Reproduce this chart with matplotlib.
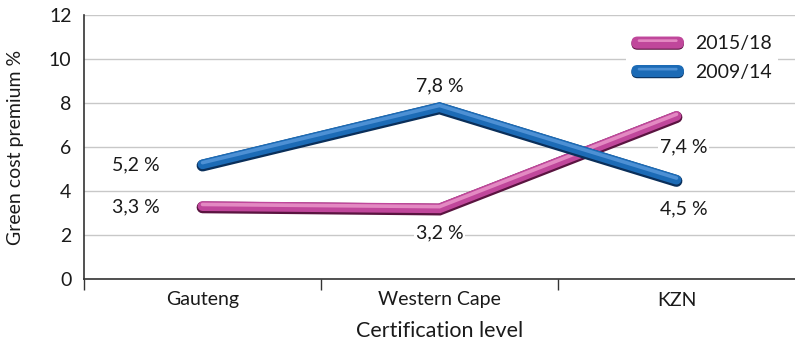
import matplotlib
matplotlib.use("Agg")
import matplotlib.pyplot as plt
import matplotlib.patheffects as pe
from matplotlib.patches import FancyBboxPatch
from matplotlib.legend_handler import HandlerBase

plt.rcParams['font.family'] = ['Lato', 'DejaVu Sans']

regions = ["Gauteng", "Western Cape", "KZN"]
premium_2015_18 = [3.3, 3.2, 7.4]
premium_2009_14 = [5.2, 7.8, 4.5]
series_names = ["2015/18", "2009/14"]
y_ticks = [0, 2, 4, 6, 8, 10, 12]

styles = {
    "2015/18": dict(main="#c0479b", dark="#5a1440", light="#e389c2"),
    "2009/14": dict(main="#1c6bb6", dark="#0a2f5a", light="#4d90d4"),
}

FS = 14

fig = plt.figure(figsize=(7.95, 3.42), dpi=100)
ax = fig.add_axes([84 / 795, 1 - 279 / 342, 711 / 795, 264 / 342])

x = list(range(len(regions)))


def tube_effects(st):
    return [
        pe.Stroke(linewidth=8.5, foreground=st["dark"], offset=(0, -0.7)),
        pe.Stroke(linewidth=7.0, foreground=st["main"], offset=(0, 0.2)),
        pe.Stroke(linewidth=2.6, foreground=st["light"], offset=(0, 1.4)),
    ]


for name, vals in zip(series_names, [premium_2015_18, premium_2009_14]):
    st = styles[name]
    ax.plot(x, vals, color=st["main"], lw=7.0, solid_capstyle="round",
            solid_joinstyle="miter", path_effects=tube_effects(st), zorder=3)

# value labels
label_kw = dict(fontsize=FS, color="#1a1a1a", zorder=5,
                bbox=dict(facecolor="white", edgecolor="none", pad=1.5))


def fmt(v):
    return f"{v:.1f}".replace(".", ",") + " %"


ax.text(x[0] - 0.28, premium_2009_14[0], fmt(premium_2009_14[0]), ha="center", va="center", **label_kw)
ax.text(x[0] - 0.28, premium_2015_18[0], fmt(premium_2015_18[0]), ha="center", va="center", **label_kw)
ax.text(x[1], premium_2009_14[1] + 1.0, fmt(premium_2009_14[1]), ha="center", va="center", **label_kw)
ax.text(x[1], premium_2015_18[1] - 1.1, fmt(premium_2015_18[1]), ha="center", va="center", **label_kw)
ax.text(x[2] + 0.03, premium_2015_18[2] - 1.4, fmt(premium_2015_18[2]), ha="center", va="center", **label_kw)
ax.text(x[2] + 0.03, premium_2009_14[2] - 1.3, fmt(premium_2009_14[2]), ha="center", va="center", **label_kw)

ax.set_xlim(-0.5, 2.5)
ax.set_ylim(0, 12)
ax.set_yticks(y_ticks)
ax.set_yticklabels([str(t) for t in y_ticks], fontsize=FS, color="#1a1a1a")
ax.tick_params(axis="y", length=0, pad=9)
ax.grid(axis="y", color="#c8c8c8", lw=1)
ax.set_axisbelow(True)

ax.set_xticks(x)
ax.set_xticklabels(regions, fontsize=FS, color="#1a1a1a")
ax.tick_params(axis="x", which="major", length=0, pad=9)
ax.set_xticks([-0.5, 0.5, 1.5], minor=True)
ax.tick_params(axis="x", which="minor", length=8, width=1, color="#333333", direction="out")

for side in ("top", "right"):
    ax.spines[side].set_visible(False)
for side in ("left", "bottom"):
    ax.spines[side].set_color("#333333")
    ax.spines[side].set_linewidth(1.2)

ax.set_ylabel("Green cost premium %", fontsize=FS, color="#1a1a1a", labelpad=18)
ax.set_xlabel("Certification level", fontsize=15.5, color="#1a1a1a", labelpad=9)


class PillHandler(HandlerBase):
    def __init__(self, st):
        super().__init__()
        self.st = st

    def create_artists(self, legend, orig_handle, xdescent, ydescent, width,
                       height, fontsize, trans):
        h = height * 0.75
        y0 = (height - h) / 2 - ydescent
        r = h / 2
        dark = FancyBboxPatch((-xdescent, y0 - 0.8), width, h,
                              boxstyle=f"round,pad=0,rounding_size={r}",
                              facecolor=self.st["dark"], edgecolor="none", transform=trans)
        main = FancyBboxPatch((-xdescent, y0), width, h,
                              boxstyle=f"round,pad=0,rounding_size={r}",
                              facecolor=self.st["main"], edgecolor="none", transform=trans)
        light = FancyBboxPatch((-xdescent + width * 0.12, y0 + h * 0.55), width * 0.76, h * 0.22,
                               boxstyle=f"round,pad=0,rounding_size={h * 0.11}",
                               facecolor=self.st["light"], edgecolor="none", transform=trans)
        return [dark, main, light]


handles = [plt.Line2D([], [], label=n) for n in series_names]
leg = ax.legend(handles=handles, labels=series_names,
                handler_map={h: PillHandler(styles[n]) for h, n in zip(handles, series_names)},
                loc="upper right", bbox_to_anchor=(0.99, 0.985), frameon=True,
                fontsize=FS, handlelength=2.7, handleheight=0.9, handletextpad=0.6,
                labelspacing=0.55, borderpad=0.3)
leg.get_frame().set_facecolor("white")
leg.get_frame().set_edgecolor("none")
leg.get_frame().set_alpha(1)
for t in leg.get_texts():
    t.set_color("#1a1a1a")

fig.savefig("out.png", dpi=100)
